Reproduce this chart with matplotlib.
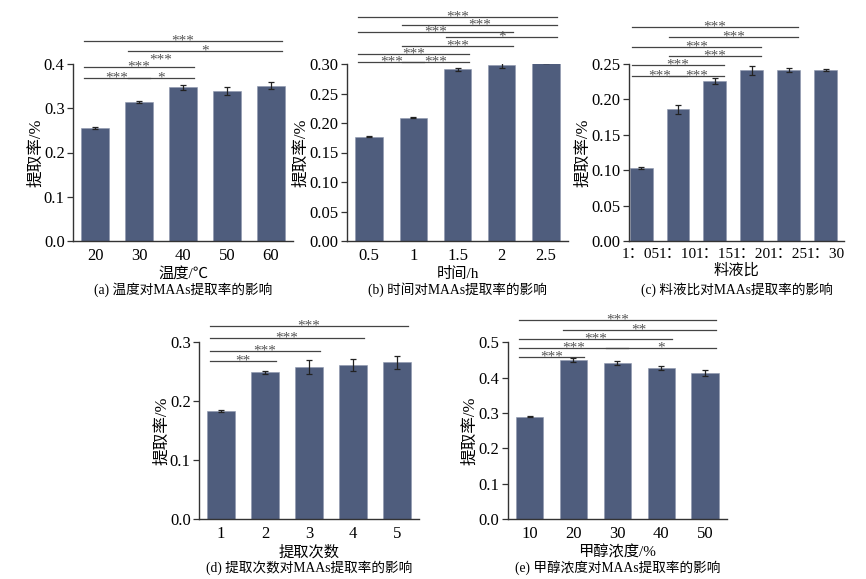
#!/usr/bin/env python3
"""
Five bar panels: effect of extraction conditions on MAAs yield.
Saves out.png (866 x 579).
"""

import numpy as np
import matplotlib
matplotlib.use("Agg")
import matplotlib.pyplot as plt


# =============================================================================
# DATA
# =============================================================================

# (a) temperature
temp_labels = ["20", "30", "40", "50", "60"]
temp_vals = [0.255, 0.314, 0.347, 0.339, 0.351]
temp_err = [0.003, 0.003, 0.006, 0.009, 0.008]
temp_pairs = [(0, 1), (1, 2), (0, 2), (1, 2), (1, 4), (0, 4)]
temp_stars = ["***", "*", "***", "***", "*", "***"]

# (b) time
time_labels = ["0.5", "1", "1.5", "2", "2.5"]
time_vals = [0.177, 0.209, 0.291, 0.298, 0.301]
time_err = [0.001, 0.001, 0.003, 0.005, 0.0]
time_pairs = [(0, 1), (1, 2), (0, 2), (1, 3), (2, 4), (0, 3), (1, 4), (0, 4)]
time_stars = ["***", "***", "***", "***", "*", "***", "***", "***"]

# (c) solid-liquid ratio
ratio_labels = ["1：05", "1：10", "1：15", "1：20", "1：25", "1：30"]
ratio_vals = [0.103, 0.186, 0.226, 0.241, 0.242, 0.241]
ratio_err = [0.001, 0.0065, 0.004, 0.006, 0.003, 0.0015]
ratio_pairs = [(0, 1), (1, 2), (0, 2), (1, 3), (0, 3), (1, 4), (0, 4)]
ratio_stars = ["***", "***", "***", "***", "***", "***", "***"]

# (d) number of extractions
times_labels = ["1", "2", "3", "4", "5"]
times_vals = [0.184, 0.249, 0.258, 0.261, 0.266]
times_err = [0.002, 0.0025, 0.012, 0.010, 0.011]
times_pairs = [(0, 1), (0, 2), (0, 3), (0, 4)]
times_stars = ["**", "***", "***", "***"]

# (e) methanol concentration
meoh_labels = ["10", "20", "30", "40", "50"]
meoh_vals = [0.290, 0.450, 0.441, 0.428, 0.414]
meoh_err = [0.001, 0.005, 0.0065, 0.005, 0.009]
meoh_pairs = [(0, 1), (0, 2), (2, 4), (0, 3), (1, 4), (0, 4)]
meoh_stars = ["***", "***", "*", "***", "**", "***"]


# =============================================================================
# STYLE
# =============================================================================

BAR_COLOR = "#4f5d7d"
LINE_COLOR = "#444444"
STAR_COLOR = "#555555"

plt.rcParams["font.family"] = ["Liberation Serif", "Noto Sans CJK SC"]
plt.rcParams["axes.unicode_minus"] = False


def draw_panel(ax, labels, vals, err, ylim, yticks, ytick_fmt,
               xlabel, caption, pairs, stars, levels, xlim=None,
               hidden=(), xtick_size=12):
    """
    One bar panel with error bars and significance brackets.
    levels are in axes fraction (1.0 = top of y axis).
    """

    x = np.arange(len(labels))

    ax.bar(x, vals, width=0.62, color=BAR_COLOR,
           edgecolor="#8d97ad", linewidth=0.4, zorder=2)
    ax.errorbar(x, vals, yerr=err, fmt="none", ecolor="#222222",
                elinewidth=0.9, capsize=2.2, capthick=0.9, zorder=3)

    ax.set_ylim(*ylim)
    ax.set_yticks(yticks)
    ax.set_yticklabels([ytick_fmt.format(v) for v in yticks])
    ax.set_xticks(x)
    ax.set_xticklabels(labels)

    if xlim is None:
        xlim = (-0.5, len(labels) - 0.5)
    ax.set_xlim(*xlim)

    for side in ("top", "right"):
        ax.spines[side].set_visible(False)
    for side in ("left", "bottom"):
        ax.spines[side].set_color("#333333")
        ax.spines[side].set_linewidth(1.0)

    ax.tick_params(axis="y", direction="out", length=4, width=0.9,
                   color="#333333", labelsize=12, pad=2)
    ax.tick_params(axis="x", length=0, labelsize=xtick_size, pad=5)

    ax.set_ylabel("提取率/%", fontsize=12, labelpad=0)
    ax.set_xlabel(xlabel, fontsize=11, labelpad=2)

    ax.text(0.5, -0.275, caption, transform=ax.transAxes,
            ha="center", va="center", fontsize=9.8)

    # significance brackets (x in data, y in axes fraction)
    trans = ax.get_xaxis_transform()
    for k, ((i, j), s, lev) in enumerate(zip(pairs, stars, levels)):
        x0 = i - 0.25
        x1 = j + 0.25
        if k not in hidden:
            ax.plot([x0, x1], [lev, lev], color=LINE_COLOR, linewidth=0.9,
                    transform=trans, clip_on=False)
        ax.text((x0 + x1) / 2, lev - 0.02, s, transform=trans,
                ha="center", va="baseline", fontsize=11, color=STAR_COLOR,
                clip_on=False)


# =============================================================================
# FIGURE
# =============================================================================

fig = plt.figure(figsize=(8.66, 5.79), dpi=100)

H = 177 / 579
ax_a = fig.add_axes([73 / 866, 1 - 241 / 579, 220 / 866, H])
ax_b = fig.add_axes([347 / 866, 1 - 241 / 579, 221 / 866, H])
ax_c = fig.add_axes([629 / 866, 1 - 241 / 579, 215 / 866, H])
ax_d = fig.add_axes([199 / 866, 1 - 519.3 / 579, 220 / 866, H])
ax_e = fig.add_axes([507.7 / 866, 1 - 519.3 / 579, 219.3 / 866, H])

draw_panel(ax_a, temp_labels, temp_vals, temp_err,
           (0, 0.4), [0.0, 0.1, 0.2, 0.3, 0.4], "{:.1f}",
           "温度/℃", "(a) 温度对MAAs提取率的影响",
           temp_pairs, temp_stars,
           [0.919, 0.919, 0.983, 1.025, 1.073, 1.128],
           hidden=(3,))

draw_panel(ax_b, time_labels, time_vals, time_err,
           (0, 0.30), [0.00, 0.05, 0.10, 0.15, 0.20, 0.25, 0.30], "{:.2f}",
           "时间/h", "(b) 时间对MAAs提取率的影响",
           time_pairs, time_stars,
           [1.011, 1.011, 1.055, 1.100, 1.151, 1.181, 1.219, 1.264])

draw_panel(ax_c, ratio_labels, ratio_vals, ratio_err,
           (0, 0.25), [0.00, 0.05, 0.10, 0.15, 0.20, 0.25], "{:.2f}",
           "料液比", "(c) 料液比对MAAs提取率的影响",
           ratio_pairs, ratio_stars,
           [0.931, 0.931, 0.994, 1.044, 1.098, 1.151, 1.209],
           xlim=(-0.33, 5.5), xtick_size=11)

draw_panel(ax_d, times_labels, times_vals, times_err,
           (0, 0.3), [0.0, 0.1, 0.2, 0.3], "{:.1f}",
           "提取次数", "(d) 提取次数对MAAs提取率的影响",
           times_pairs, times_stars,
           [0.896, 0.952, 1.022, 1.092])

draw_panel(ax_e, meoh_labels, meoh_vals, meoh_err,
           (0, 0.5), [0.0, 0.1, 0.2, 0.3, 0.4, 0.5], "{:.1f}",
           "甲醇浓度/%", "(e) 甲醇浓度对MAAs提取率的影响",
           meoh_pairs, meoh_stars,
           [0.917, 0.966, 0.966, 1.017, 1.069, 1.126])

fig.savefig("out.png", dpi=100, facecolor="white")
